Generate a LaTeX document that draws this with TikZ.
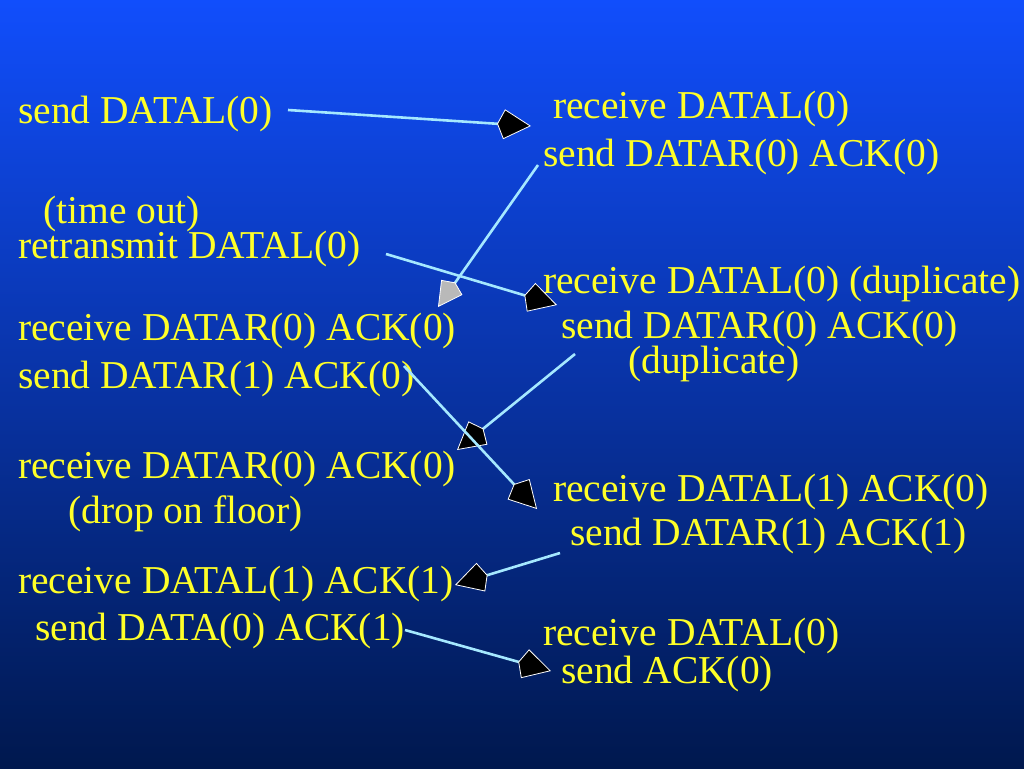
\documentclass[tikz,border=0pt]{standalone}
\usepackage{fontspec}
\setmainfont{Liberation Serif}
\usetikzlibrary{arrows.meta}
\definecolor{bgtop}{RGB}{17,78,252}
\definecolor{bgmid}{RGB}{14,58,196}
\definecolor{bgbot}{RGB}{0,24,78}
\definecolor{msgyellow}{RGB}{255,255,40}
\definecolor{msgcyan}{RGB}{165,232,255}
\begin{document}
\begin{tikzpicture}[x=1pt,y=-1pt,
    lbl/.style={anchor=base west,inner sep=0pt,text=msgyellow,font=\fontsize{39.5}{44}\selectfont},
    msg/.style={draw=msgcyan,line width=2.6pt,
      -{Kite[length=34pt,width=30pt,inset=7pt,fill=black,color=white,line width=0.8pt]}},
    lost/.style={draw=msgcyan,line width=2.6pt,
      -{Kite[length=30pt,width=26pt,inset=6pt,fill=gray!55,color=white,line width=0.8pt]}}]
  \useasboundingbox (0,0) rectangle (1024,768);
  \shade[top color=bgtop,middle color=bgmid,bottom color=bgbot] (0,0) rectangle (1024,768);
  % left side
  \node[lbl] (sL0)  at (18,123) {send DATAL(0)};
  \node[lbl] (tout) at (43,223) {(time out)};
  \node[lbl] (rtL0) at (18,258) {retransmit DATAL(0)};
  \node[lbl] (rR0a) at (18,340) {receive DATAR(0) ACK(0)};
  \node[lbl] (sR1)  at (18,388) {send DATAR(1) ACK(0)};
  \node[lbl] (rR0b) at (18,478) {receive DATAR(0) ACK(0)};
  \node[lbl] (drop) at (68,523) {(drop on floor)};
  \node[lbl] (rL1)  at (18,593) {receive DATAL(1) ACK(1)};
  \node[lbl] (sD0)  at (35,640) {send DATA(0) ACK(1)};
  % right side
  \node[lbl] (rL0a) at (553,118) {receive DATAL(0)};
  \node[lbl] (sR0a) at (543,166) {send DATAR(0) ACK(0)};
  \node[lbl] (rL0d) at (543,293) {receive DATAL(0) (duplicate)};
  \node[lbl] (sR0d) at (561,338) {send DATAR(0) ACK(0)};
  \node[lbl] (dup)  at (628,373) {(duplicate)};
  \node[lbl] (rL1b) at (553,501) {receive DATAL(1) ACK(0)};
  \node[lbl] (sR1b) at (570,545) {send DATAR(1) ACK(1)};
  \node[lbl] (rL0b) at (543,645) {receive DATAL(0)};
  \node[lbl] (sAck) at (561,683) {send ACK(0)};
  % message ends
  \coordinate (a1) at (288,110);  \coordinate (b1) at (531,126);
  \coordinate (a2) at (538,165);  \coordinate (b2) at (438,307);
  \coordinate (a3) at (386,254);  \coordinate (b3) at (557,305);
  \coordinate (a4) at (575,354);  \coordinate (b4) at (457,450);
  \coordinate (a5) at (404,366);  \coordinate (b5) at (537,509);
  \coordinate (a6) at (560,553);  \coordinate (b6) at (455,585);
  \coordinate (a7) at (405,630);  \coordinate (b7) at (551,671);
  \draw[msg]  (a1) -- (b1);
  \draw[lost] (a2) -- (b2);
  \draw[msg]  (a3) -- (b3);
  \draw[msg]  (a4) -- (b4);
  \draw[msg]  (a5) -- (b5);
  \draw[msg]  (a6) -- (b6);
  \draw[msg]  (a7) -- (b7);
\end{tikzpicture}
\end{document}
